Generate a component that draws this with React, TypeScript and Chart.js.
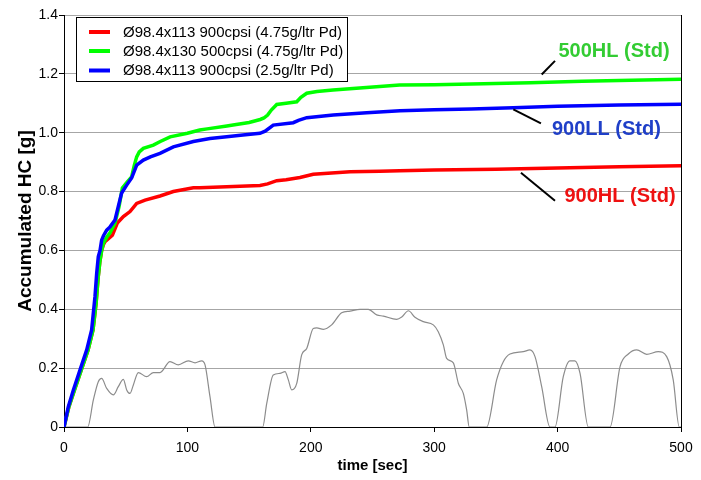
import React, { useEffect, useRef } from "react";
import { Chart, registerables } from "chart.js";

Chart.register(...registerables);

// ---------- data ----------
const seriesLabels = [
  "Ø98.4x113 900cpsi (4.75g/ltr Pd)",
  "Ø98.4x130 500cpsi (4.75g/ltr Pd)",
  "Ø98.4x113 900cpsi (2.5g/ltr Pd)",
];
const seriesColors = ["#ff0000", "#00ff00", "#0000ff"];

// 900HL (red)
const redTime = [0, 4, 8.5, 14, 19.5, 23.5, 26, 27.5, 29, 30.5, 32, 33.2, 36, 39.2, 43.2, 48.1, 53.5, 58.9, 65.7, 77.8, 88.6, 104.8, 110, 131.8, 158.8, 165, 172.4, 180, 191.2, 202, 231.8, 256, 272, 300, 350, 400, 450, 500];
const redHC = [0, 0.069, 0.126, 0.194, 0.262, 0.33, 0.42, 0.5, 0.56, 0.6, 0.62, 0.63, 0.64, 0.652, 0.693, 0.715, 0.732, 0.76, 0.771, 0.785, 0.8, 0.813, 0.813, 0.816, 0.821, 0.826, 0.837, 0.84, 0.848, 0.859, 0.867, 0.869, 0.871, 0.873, 0.876, 0.88, 0.884, 0.888];

// 500HL (green)
const greenTime = [0, 4, 8.5, 14, 19.5, 23.5, 26, 27.5, 29, 30.5, 32, 34.6, 37.3, 41.3, 44.6, 47.3, 51.3, 54.8, 57, 58.9, 61, 64.3, 72.4, 78, 86, 100, 110, 116, 132, 137, 150, 159, 162, 165, 168, 172.4, 180, 188.6, 192, 196.7, 205, 218, 245, 272, 300, 340, 378, 420, 460, 500];
const greenHC = [0, 0.069, 0.126, 0.194, 0.262, 0.33, 0.42, 0.5, 0.56, 0.6, 0.625, 0.645, 0.66, 0.693, 0.749, 0.812, 0.833, 0.85, 0.89, 0.918, 0.935, 0.947, 0.958, 0.97, 0.986, 0.998, 1.009, 1.013, 1.023, 1.026, 1.035, 1.045, 1.05, 1.06, 1.077, 1.096, 1.1, 1.105, 1.12, 1.134, 1.14, 1.145, 1.154, 1.162, 1.163, 1.166, 1.17, 1.175, 1.178, 1.182];

// 900LL (blue)
const blueTime = [0, 3.5, 7.6, 13, 18.4, 22.4, 25.1, 26.5, 27.8, 29.2, 30.5, 32, 34.6, 37.3, 41.3, 44, 46.7, 50.8, 54.8, 58.9, 64.3, 70, 77.8, 88.6, 104.8, 118.3, 131.8, 145, 158.8, 163, 169.6, 185.8, 190, 196.7, 218.2, 245.3, 272.3, 300, 330, 364, 400, 450, 500];
const blueHC = [0, 0.069, 0.126, 0.194, 0.262, 0.33, 0.443, 0.523, 0.579, 0.6, 0.635, 0.65, 0.669, 0.68, 0.703, 0.75, 0.795, 0.822, 0.846, 0.89, 0.907, 0.918, 0.93, 0.952, 0.97, 0.98, 0.986, 0.992, 0.998, 1.005, 1.026, 1.034, 1.042, 1.051, 1.06, 1.068, 1.075, 1.078, 1.081, 1.085, 1.09, 1.094, 1.097];

// vehicle speed trace (scaled, grey)
const speedTime = [0, 19.2, 23.8, 27.8, 30.5, 34.6, 40, 44, 48.1, 50.8, 53.5, 56.2, 60.2, 67, 72.4, 77.8, 85.9, 92.6, 100.7, 106.2, 111.6, 114.3, 118.3, 122.4, 161, 164.3, 169.6, 175, 179.1, 181.8, 184.5, 188.6, 192.6, 196.7, 202, 204.8, 210.2, 216.9, 225, 231.8, 239.9, 246.6, 253.4, 258.8, 269.6, 273.7, 279.1, 284.4, 291.2, 299.3, 303.3, 307.4, 310.1, 315.5, 319.6, 323.6, 326.3, 328.4, 342.5, 350.6, 356, 361.4, 372.2, 377.6, 381.7, 387.1, 393.8, 397.9, 404.6, 410, 414, 418.2, 424.9, 442.5, 450.6, 457.3, 464.1, 472.2, 481.6, 488.4, 493.7, 498.6, 500];
const speedScaled = [0, 0, 0.092, 0.154, 0.165, 0.131, 0.109, 0.137, 0.162, 0.126, 0.114, 0.143, 0.185, 0.171, 0.185, 0.185, 0.222, 0.211, 0.225, 0.218, 0.225, 0.211, 0.103, 0, 0, 0.08, 0.177, 0.182, 0.188, 0.16, 0.126, 0.148, 0.245, 0.267, 0.335, 0.337, 0.332, 0.347, 0.388, 0.394, 0.4, 0.4, 0.381, 0.377, 0.366, 0.374, 0.395, 0.373, 0.358, 0.347, 0.324, 0.279, 0.233, 0.218, 0.148, 0.114, 0.058, 0, 0, 0.16, 0.222, 0.248, 0.256, 0.262, 0.239, 0.137, 0, 0, 0.171, 0.225, 0.225, 0.182, 0, 0, 0.205, 0.248, 0.262, 0.247, 0.256, 0.239, 0.16, 0, 0];

// axes
const xMin = 0, xMax = 500, xStep = 100;
const yMin = 0, yMax = 1.4, yStep = 0.2;
const xTitle = "time [sec]";
const yTitle = "Accumulated HC [g]";

// callouts (in data units)
const calloutTexts = ["500HL (Std)", "900LL (Std)", "900HL (Std)"];
const calloutColors = ["#33cc33", "#1f3fc8", "#ee1111"];
const calloutTextT = [445.7, 439.5, 450.6];
const calloutTextV = [1.275, 1.0115, 0.7825];
const calloutLineT0 = [387.1, 364.1, 370.3];
const calloutLineV0 = [1.198, 1.0795, 0.864];
const calloutLineT1 = [397.9, 386.5, 397.9];
const calloutLineV1 = [1.244, 1.032, 0.769];

const FONT = "'Liberation Sans', Arial, Helvetica, sans-serif";

const zip = (xs: number[], ys: number[]) => xs.map((x, i) => ({ x, y: ys[i] }));

const framePlugin = {
  id: "frame",
  afterDraw(chart: any) {
    const { ctx, chartArea, scales } = chart;
    const xs = scales.x, ys = scales.y;
    ctx.save();
    // right border
    ctx.strokeStyle = "#000";
    ctx.lineWidth = 1;
    ctx.beginPath();
    ctx.moveTo(Math.round(chartArea.right) + 0.5, chartArea.top);
    ctx.lineTo(Math.round(chartArea.right) + 0.5, chartArea.bottom);
    ctx.stroke();

    // callouts
    ctx.font = `bold 20px ${FONT}`;
    ctx.textAlign = "center";
    ctx.textBaseline = "middle";
    for (let i = 0; i < calloutTexts.length; i++) {
      ctx.strokeStyle = "#000";
      ctx.lineWidth = 2;
      ctx.beginPath();
      ctx.moveTo(xs.getPixelForValue(calloutLineT0[i]), ys.getPixelForValue(calloutLineV0[i]));
      ctx.lineTo(xs.getPixelForValue(calloutLineT1[i]), ys.getPixelForValue(calloutLineV1[i]));
      ctx.stroke();
      ctx.fillStyle = calloutColors[i];
      ctx.fillText(calloutTexts[i], xs.getPixelForValue(calloutTextT[i]), ys.getPixelForValue(calloutTextV[i]));
    }

    // legend box
    const bx = chartArea.left + 12, by = chartArea.top + 2, bw = 271, bh = 64;
    ctx.fillStyle = "#fff";
    ctx.fillRect(bx, by, bw, bh);
    ctx.strokeStyle = "#000";
    ctx.lineWidth = 1;
    ctx.strokeRect(bx + 0.5, by + 0.5, bw, bh);
    ctx.font = `15px ${FONT}`;
    ctx.textAlign = "left";
    ctx.textBaseline = "middle";
    const rowY = [15, 34, 53.5];
    for (let i = 0; i < seriesLabels.length; i++) {
      const yy = by + rowY[i];
      ctx.strokeStyle = seriesColors[i];
      ctx.lineWidth = 4;
      ctx.beginPath();
      ctx.moveTo(bx + 13, yy);
      ctx.lineTo(bx + 34, yy);
      ctx.stroke();
      ctx.fillStyle = "#000";
      ctx.fillText(seriesLabels[i], bx + 47, yy + 0.5);
    }
    ctx.restore();
  },
};

export default function App() {
  const ref = useRef<HTMLCanvasElement | null>(null);
  useEffect(() => {
    if (!ref.current) return;
    const chart = new Chart(ref.current, {
      type: "line",
      data: {
        datasets: [
          {
            label: seriesLabels[2],
            data: zip(blueTime, blueHC),
            borderColor: seriesColors[2],
            borderWidth: 3.5,
            pointRadius: 0,
            tension: 0,
            order: 1,
          },
          {
            label: seriesLabels[1],
            data: zip(greenTime, greenHC),
            borderColor: seriesColors[1],
            borderWidth: 3.5,
            pointRadius: 0,
            tension: 0,
            order: 2,
          },
          {
            label: seriesLabels[0],
            data: zip(redTime, redHC),
            borderColor: seriesColors[0],
            borderWidth: 3.5,
            pointRadius: 0,
            tension: 0,
            order: 3,
          },
          {
            label: "speed",
            data: zip(speedTime, speedScaled),
            borderColor: "#8c8c8c",
            borderWidth: 1.2,
            pointRadius: 0,
            cubicInterpolationMode: "monotone",
            order: 4,
          },
        ],
      },
      options: {
        animation: false,
        responsive: false,
        layout: { padding: { left: 0, top: 15, right: 20, bottom: 0 } },
        plugins: { legend: { display: false }, tooltip: { enabled: false } },
        scales: {
          x: {
            type: "linear",
            min: xMin,
            max: xMax,
            afterFit: (s: any) => { s.height = 53; },
            ticks: { stepSize: xStep, color: "#000", font: { family: FONT, size: 14 }, padding: 8, maxRotation: 0 },
            grid: { drawOnChartArea: false, tickColor: "#000", tickLength: 5 },
            border: { color: "#000", width: 1 },
            title: { display: true, text: xTitle, color: "#000", font: { family: FONT, size: 15, weight: "bold" }, padding: { top: 0, bottom: 5 } },
          },
          y: {
            min: yMin,
            max: yMax,
            afterFit: (s: any) => { s.width = 64; },
            ticks: { stepSize: yStep, color: "#000", font: { family: FONT, size: 14 }, padding: 1 },
            grid: { color: "#a6a6a6", tickColor: "#000", tickLength: 5 },
            border: { color: "#000", width: 1 },
            title: { display: true, text: yTitle, color: "#000", font: { family: FONT, size: 19, weight: "bold" }, padding: { top: 14, bottom: 0 } },
          },
        },
      },
      plugins: [framePlugin],
    } as any);
    return () => chart.destroy();
  }, []);
  return (
    <div style={{ position: "absolute", left: 0, top: 0, width: 701, height: 480, background: "#fff" }}>
      <canvas ref={ref} width={701} height={480} />
    </div>
  );
}
